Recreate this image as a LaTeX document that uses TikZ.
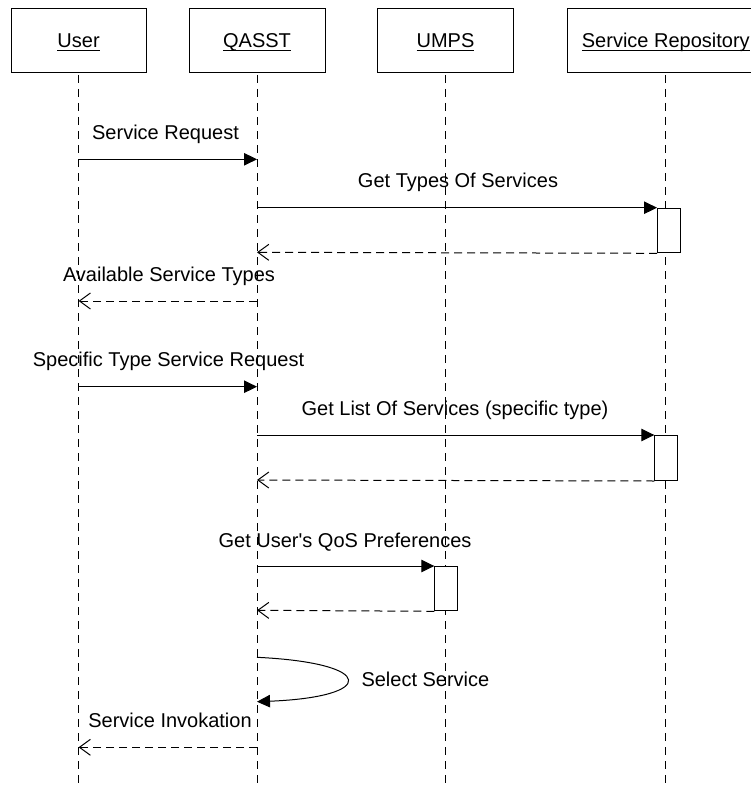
\documentclass[tikz,border=0pt]{standalone}
\usepackage{fontspec}
\setmainfont{Liberation Sans}[Ligatures=TeXOff]
\usetikzlibrary{arrows.meta}
\newcommand\myul[1]{\setbox0=\hbox{#1}\rlap{\copy0}\rule[-3pt]{\wd0}{1pt}}
\begin{document}
\begin{tikzpicture}[x=1pt,y=-1pt, font=\fontsize{20}{24}\selectfont, line width=1pt,
  headbox/.style={draw, fill=white, minimum height=63.5pt, inner sep=0pt, text height=14.3pt, text depth=0pt},
  lifeline/.style={dash pattern=on 8pt off 6pt},
  actbox/.style={draw, fill=white, inner sep=0pt, anchor=north west},
  call/.style={-{Triangle[length=13pt,width=12.5pt]}},
  reply/.style={dash pattern=on 8pt off 5pt, -{Straight Barb[length=11pt,width=16pt]}},
  lbl/.style={anchor=base, inner sep=0pt}]
\path[use as bounding box, clip] (0,0) rectangle (751,789);
% heads
\node[headbox, minimum width=135pt] (user) at (78.6,40.75) {\myul{User}};
\node[headbox, minimum width=136pt] (qasst) at (257,40.75) {\myul{QASST}};
\node[headbox, minimum width=136pt] (umps) at (445.5,40.75) {\myul{UMPS}};
\node[headbox, minimum width=196pt] (repo) at (665.8,40.75) {\myul{Service Repository}};
% lifeline ends
\coordinate (userend) at (78.6,790);
\coordinate (qasstend) at (257,790);
\coordinate (umpsend) at (445.5,790);
\coordinate (repoend) at (665.8,790);
\draw[lifeline] ([yshift=-2pt]user.south) -- (userend);
\draw[lifeline] ([yshift=-2pt]qasst.south) -- (qasstend);
\draw[lifeline] ([yshift=-2pt]umps.south) -- (umpsend);
\draw[lifeline] ([yshift=-2pt]repo.south) -- (repoend);
% activation boxes
\node[actbox, minimum width=22.7pt, minimum height=44.6pt] (act1) at (657,207.7) {};
\node[actbox, minimum width=22.4pt, minimum height=45pt] (act2) at (654.3,435) {};
\node[actbox, minimum width=22.4pt, minimum height=44.3pt] (act3) at (434.3,566) {};
% message points
\coordinate (u1) at (78.6,159.3); \coordinate (q1) at (257,159.3);
\coordinate (q2) at (257,207.7);
\coordinate (q3) at (257,252.3);
\coordinate (q4) at (257,301); \coordinate (u4) at (78.6,301);
\coordinate (u5) at (78.6,386.7); \coordinate (q5) at (257,386.7);
\coordinate (q6) at (257,435);
\coordinate (q7) at (257,480);
\coordinate (q8) at (257,566);
\coordinate (q9) at (257,610.3);
\coordinate (q10) at (257,657.3); \coordinate (q11) at (257,701.7);
\coordinate (q12) at (257,747.3); \coordinate (u12) at (78.6,747.3);
% messages
\draw[call] (u1) -- (q1);
\node[lbl] (l1) at (165.5,139.6) {Service Request};
\draw[call] (q2) -- (act1.north west);
\node[lbl] (l2) at (458,187) {Get Types Of Services};
\draw[reply] (act1.south west) -- (q3);
\draw[reply] (q4) -- (u4);
\node[lbl] (l3) at (169,281) {Available Service Types};
\draw[call] (u5) -- (q5);
\node[lbl] (l4) at (168.5,366) {Specific Type Service Request};
\draw[call] (q6) -- (act2.north west);
\node[lbl] (l5) at (455,415) {Get List Of Services (specific type)};
\draw[reply] (act2.south west) -- (q7);
\draw[call] (q8) -- (act3.north west);
\node[lbl] (l6) at (345,547) {Get User's QoS Preferences};
\draw[reply] (act3.south west) -- (q9);
\draw[call] (q10) .. controls (377,663) and (377,697) .. (q11);
\node[lbl, anchor=base west] (l7) at (361,686.5) {Select Service};
\draw[reply] (q12) -- (u12);
\node[lbl] (l8) at (170,727) {Service Invokation};
\end{tikzpicture}
\end{document}
